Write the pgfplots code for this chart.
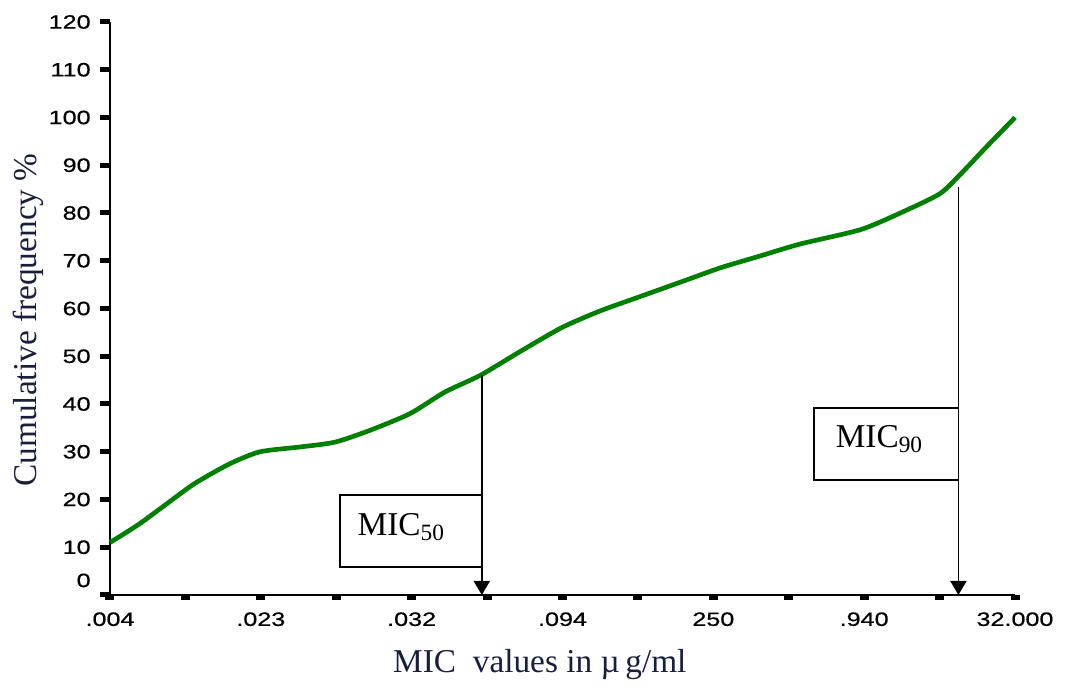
\documentclass[border=0pt]{standalone}
\usepackage{pgfplots}
\pgfplotsset{compat=1.18}
\usetikzlibrary{arrows.meta}
\usepackage{fontspec}
\setmainfont{Liberation Serif}
\newfontfamily\tickfont[FakeStretch=1.3, FakeBold=0.6]{Liberation Sans}
\definecolor{curvegreen}{RGB}{0,128,0}
\definecolor{labelnavy}{RGB}{25,30,60}
\begin{document}
\begin{tikzpicture}
\path[use as bounding box] (-82.5pt,-72.75pt) rectangle (716.25pt,446.25pt);
\begin{axis}[
  at={(0,0)}, anchor=south west,
  scale only axis, width=678.75pt, height=429.75pt,
  xmin=0, xmax=12, ymin=0, ymax=120,
  clip=false,
  axis lines=left, axis line style={-, line width=1.4pt},
  xtick={0,...,12},
  xticklabels={.004,,.023,,.032,,.094,,250,,.940,,32.000},
  ytick={0,10,...,120},
  yticklabels={\raisebox{22pt}{0},10,20,30,40,50,60,70,80,90,100,110,120},
  tick align=outside,
  major tick length=7.5pt,
  x tick style={line width=6.75pt, black, /pgfplots/major tick length=3.75pt},
  y tick style={line width=3.75pt, black},
  ticklabel style={font=\tickfont\fontsize{14.5}{14.5}\selectfont, black},
  yticklabel style={xshift=-3.5pt},
  xticklabel style={yshift=-2pt},
  xlabel={MIC\ \ values in µ\,g/ml},
  ylabel={Cumulative frequency \%},
  every axis x label/.style={at={(rel axis cs:0.475,0)}, yshift=-52.5pt, anchor=center, font=\fontsize{25}{25}\selectfont, text=labelnavy},
  every axis y label/.style={at={(rel axis cs:0,0.48)}, xshift=-61.5pt, rotate=90, anchor=center, font=\fontsize{25}{25}\selectfont, text=labelnavy},
]
\addplot[curvegreen, line width=3.5pt, smooth, tension=0.4] coordinates {
(0,11) (0.4,15) (1.0,22) (1.19,24) (1.59,27.5) (1.99,30) (2.52,31) (2.98,32)
(3.45,34.5) (3.98,38) (4.44,42.5) (4.91,46) (5.44,51) (5.99,56) (6.5,59.5)
(7.03,62.5) (7.56,65.5) (8.09,68.5) (8.62,71) (9.15,73.5) (9.95,76.5)
(10.48,80) (11.0,84) (11.27,88) (11.6,93.5) (12,100)
};
\draw[line width=1.4pt, -{Triangle[length=10.5pt,width=12pt]}] (axis cs:4.93,46) -- (axis cs:4.93,0);
\draw[line width=1.4pt, -{Triangle[length=10.5pt,width=12pt]}] (axis cs:11.25,85.5) -- (axis cs:11.25,0);
\draw[line width=1.4pt] (axis cs:3.05,5.9) rectangle (axis cs:4.93,20.9);
\draw[line width=1.4pt] (axis cs:9.34,24.1) rectangle (axis cs:11.25,39.2);
\node[anchor=base west, inner sep=0pt, font=\fontsize{25}{25}\selectfont] at (axis cs:3.28,12.4) {MIC\textsubscript{50}};
\node[anchor=base west, inner sep=0pt, font=\fontsize{25}{25}\selectfont] at (axis cs:9.62,30.8) {MIC\textsubscript{90}};
\end{axis}
\end{tikzpicture}
\end{document}
